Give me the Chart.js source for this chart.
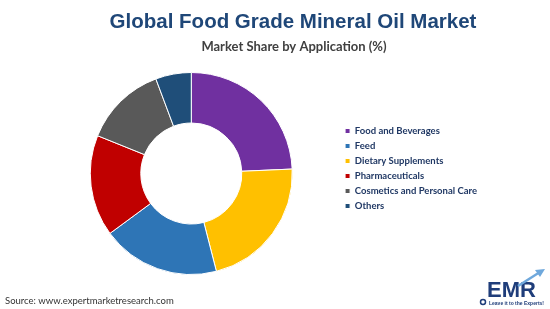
<!DOCTYPE html>
<html>
<head>
<meta charset="utf-8">
<script src="https://cdn.jsdelivr.net/npm/chart.js@4"></script>
<style>
  html, body { margin: 0; padding: 0; background: #fff; }
  #wrap { width: 550px; height: 309px; position: relative; }
</style>
</head>
<body>
<div id="wrap"><canvas id="shareChart"></canvas></div>
<script>
// Segments in drawing order (clockwise from 12 o'clock)
const applications = ['Food and Beverages', 'Dietary Supplements', 'Feed', 'Pharmaceuticals', 'Cosmetics and Personal Care', 'Others'];
const shares = [24.3, 21.7, 18.9, 16.2, 13.2, 5.7];
const sliceColors = ['#7030A0', '#FFC000', '#2E75B6', '#C00000', '#595959', '#1F4E79'];
// Order the legend lists them in
const legendOrder = ['Food and Beverages', 'Feed', 'Dietary Supplements', 'Pharmaceuticals', 'Cosmetics and Personal Care', 'Others'];

const titleText = 'Global Food Grade Mineral Oil Market';
const subtitleText = 'Market Share by Application (%)';
const sourceText = 'Source: www.expertmarketresearch.com';

// Header, footer and logo drawn straight on the canvas
const decorations = {
    id: 'decorations',
    afterDraw(chart) {
        const ctx = chart.ctx;
        ctx.save();
        ctx.textBaseline = 'middle';
        ctx.textAlign = 'center';

        ctx.fillStyle = '#1F4778';
        ctx.font = 'bold 20.5px "Liberation Sans", Arial, sans-serif';
        ctx.fillText(titleText, 293, 22);

        ctx.fillStyle = '#404040';
        ctx.font = 'bold 13px Lato, sans-serif';
        ctx.fillText(subtitleText, 294, 47);

        ctx.textAlign = 'left';
        ctx.fillStyle = '#333333';
        ctx.font = '9.5px Lato, sans-serif';
        ctx.fillText(sourceText, 5, 301);

        // EMR logo
        ctx.fillStyle = '#1F3D7A';
        ctx.font = 'bold 22px "Liberation Sans", Arial, sans-serif';
        ctx.fillText('EMR', 487, 291);
        ctx.font = 'bold 5px "Liberation Sans", Arial, sans-serif';
        ctx.fillText('Leave it to the Experts!', 489, 304);
        ctx.strokeStyle = '#6FA8DC';
        ctx.lineWidth = 2.5;
        ctx.beginPath();
        ctx.moveTo(518, 286);
        ctx.lineTo(540, 272);
        ctx.stroke();
        ctx.fillStyle = '#6FA8DC';
        ctx.beginPath();
        ctx.moveTo(545, 269);
        ctx.lineTo(535, 270);
        ctx.lineTo(540, 277);
        ctx.closePath();
        ctx.fill();
        ctx.strokeStyle = '#1F3D7A';
        ctx.lineWidth = 1.5;
        ctx.beginPath();
        ctx.arc(483, 302, 2.5, 0, Math.PI * 2);
        ctx.stroke();
        ctx.restore();
    }
};

// legend sits a little above the doughnut's middle in the original
const legendNudge = {
    id: 'legendNudge',
    afterLayout(chart) {
        chart.legend.top -= 5;
        chart.legend.bottom -= 5;
    }
};

const ctx = document.getElementById('shareChart').getContext('2d');
const shareChart = new Chart(ctx, {
    type: 'doughnut',
    data: {
        labels: applications,
        datasets: [{
            data: shares,
            backgroundColor: sliceColors,
            borderColor: '#ffffff',
            borderWidth: 1
        }]
    },
    options: {
        responsive: true,
        maintainAspectRatio: false,
        animation: false,
        cutout: '50%',
        layout: {
            padding: { top: 72, bottom: 34, left: 43, right: 63 }
        },
        plugins: {
            title: { display: false },
            tooltip: { enabled: false },
            legend: {
                position: 'right',
                labels: {
                    boxWidth: 5,
                    boxHeight: 5,
                    padding: 5.5,
                    color: '#203864',
                    font: { family: 'Lato, sans-serif', size: 9.5, weight: 'bold' },
                    sort: (a, b) => legendOrder.indexOf(a.text) - legendOrder.indexOf(b.text)
                }
            }
        }
    },
    plugins: [decorations, legendNudge]
});
</script>
</body>
</html>
